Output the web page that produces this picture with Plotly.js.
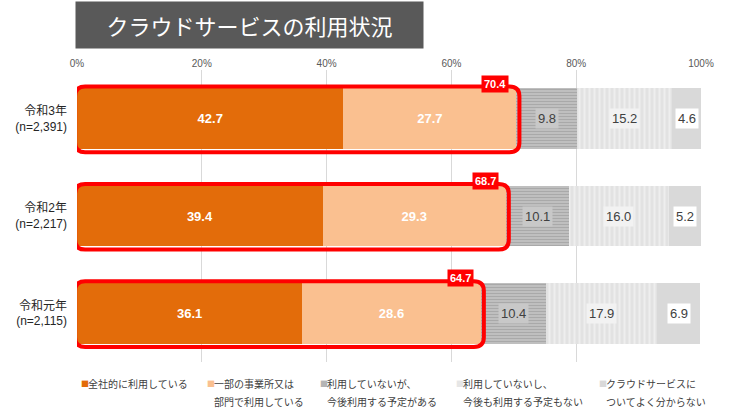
<!DOCTYPE html>
<html>
<head>
<meta charset="utf-8">
<script src="https://cdn.plot.ly/plotly-3.0.1.min.js"></script>
<style>html,body{margin:0;padding:0;background:#fff;}#chart{width:738px;height:416px;}</style>
</head>
<body>
<div id="chart"></div>
<script>
// ---- data ----
const categories = ['令和3年<br>(n=2,391)', '令和2年<br>(n=2,217)', '令和元年<br>(n=2,115)'];
const seriesNames = [
  '全社的に利用している',
  '一部の事業所又は<br>部門で利用している',
  '利用していないが、<br>今後利用する予定がある',
  '利用していないし、<br>今後も利用する予定もない',
  'クラウドサービスに<br>ついてよく分からない'
];
const allCompany = [42.7, 39.4, 36.1];
const someOffices = [27.7, 29.3, 28.6];
const planning = [9.8, 10.1, 10.4];
const noPlan = [15.2, 16.0, 17.9];
const unknown = [4.6, 5.2, 6.9];
const usingTotal = [70.4, 68.7, 64.7];
const tickValues = [0, 20, 40, 60, 80, 100];
const tickLabels = ['0%', '20%', '40%', '60%', '80%', '100%'];
const chartTitle = 'クラウドサービスの利用状況';

// ---- styles ----
const FONT = 'Liberation Sans, Arial, Noto Sans CJK JP, sans-serif';
const JFONT = 'Noto Sans CJK JP, sans-serif';
const colors = ['#E36C0A', '#FAC090', '#B4B4B4', '#E6E6E6', '#D9D9D9'];
const rows = categories.map((_, i) => i);
const series = [allCompany, someOffices, planning, noPlan, unknown];

const patterns = [
  null, null,
  {shape: '-', fgcolor: '#a9a9a9', bgcolor: '#c2c2c2', size: 3, solidity: 0.4},
  {shape: '|', fgcolor: '#eeeeee', bgcolor: '#e2e2e2', size: 5, solidity: 0.4},
  null
];

const traces = series.map((vals, k) => {
  const t = {
    type: 'bar', orientation: 'h', name: seriesNames[k],
    x: vals, y: rows, width: 0.62,
    marker: {color: colors[k], line: {width: 0}},
    hoverinfo: 'x+name', showlegend: false
  };
  if (patterns[k]) t.marker.pattern = patterns[k];
  if (k < 2) {
    t.text = vals.map(v => v.toFixed(1));
    t.textposition = 'inside';
    t.insidetextanchor = 'middle';
    t.textfont = {color: '#ffffff', size: 13, family: FONT};
    t.texttemplate = '<b>%{text}</b>';
  } else {
    t.textposition = 'none';
  }
  return t;
});

const annotations = [];
const shapes = [];

// segment labels for the grey series
const labelBg = [null, null, '#c8c8c8', '#f2f2f2', '#ffffff'];
rows.forEach(i => {
  let cum = 0;
  series.forEach((vals, k) => {
    const mid = cum + vals[i] / 2;
    cum += vals[i];
    if (k >= 2) {
      annotations.push({
        x: mid, y: i, xref: 'x', yref: 'y', showarrow: false,
        text: vals[i].toFixed(1), bgcolor: labelBg[k], borderpad: 2,
        font: {size: 13, color: '#404040', family: FONT}
      });
    }
  });
});

// red outlines and total labels
const rx = 1.6, ry = 0.1;
rows.forEach(i => {
  const x0 = -0.3, x1 = usingTotal[i] + 0.5;
  const y0 = i - 0.33, y1 = i + 0.345;
  const p = `M ${x0 + rx},${y0} L ${x1 - rx},${y0} Q ${x1},${y0} ${x1},${y0 + ry} ` +
            `L ${x1},${y1 - ry} Q ${x1},${y1} ${x1 - rx},${y1} L ${x0 + rx},${y1} ` +
            `Q ${x0},${y1} ${x0},${y1 - ry} L ${x0},${y0 + ry} Q ${x0},${y0} ${x0 + rx},${y0} Z`;
  shapes.push({type: 'path', xref: 'x', yref: 'y', path: p, layer: 'above',
               line: {color: '#FF0000', width: 4}, fillcolor: 'rgba(0,0,0,0)'});
  annotations.push({
    x: usingTotal[i], y: i, xref: 'x', yref: 'y', showarrow: false,
    xanchor: 'right', yanchor: 'middle', xshift: -7, yshift: 35,
    text: '<b>' + usingTotal[i].toFixed(1) + '</b>', bgcolor: '#FF0000', borderpad: 2,
    font: {size: 11, color: '#ffffff', family: FONT}
  });
});

// title box
annotations.push({
  xref: 'paper', yref: 'paper', x: (249 - 77) / 624, y: (362 - 24.5) / 292,
  xanchor: 'center', yanchor: 'middle', showarrow: false,
  text: chartTitle, bgcolor: '#595959', width: 345, height: 44,
  font: {size: 22, color: '#ffffff', family: JFONT}
});

// legend built from series names and colours
const px = x => (x - 77) / 624;
const py = y => (362 - y) / 292;
const legendX = [79, 205, 318, 454, 597];
seriesNames.forEach((nm, k) => {
  annotations.push({
    xref: 'paper', yref: 'paper', x: px(legendX[k]), y: py(383), xanchor: 'left', yanchor: 'middle',
    showarrow: false, text: '■', font: {size: 8, color: colors[k], family: JFONT}
  });
  nm.split('<br>').forEach((line, j) => {
    annotations.push({
      xref: 'paper', yref: 'paper', x: px(legendX[k] + 7), y: py(383 + j * 18),
      xanchor: 'left', yanchor: 'middle', showarrow: false, text: line,
      font: {size: 10, color: '#404040', family: JFONT}
    });
  });
});

const layout = {
  width: 738, height: 416,
  margin: {l: 77, r: 37, t: 70, b: 54},
  paper_bgcolor: '#ffffff', plot_bgcolor: '#ffffff',
  barmode: 'stack',
  showlegend: false,
  font: {family: FONT, color: '#404040'},
  xaxis: {
    side: 'top', range: [0, 100], tickmode: 'array', tickvals: tickValues, ticktext: tickLabels,
    showgrid: true, gridcolor: '#d9d9d9', gridwidth: 1, zeroline: false, showline: false,
    ticks: '', tickfont: {size: 10, color: '#595959', family: FONT}, fixedrange: true
  },
  yaxis: {
    range: [2.5, -0.5], tickmode: 'array', tickvals: rows, ticktext: categories,
    showgrid: false, zeroline: false, showline: false, ticks: '', ticklabelstandoff: 9,
    tickfont: {size: 12, color: '#262626', family: FONT}, fixedrange: true
  },
  shapes: shapes,
  annotations: annotations
};

Plotly.newPlot('chart', traces, layout, {displayModeBar: false, staticPlot: true});
</script>
</body>
</html>
